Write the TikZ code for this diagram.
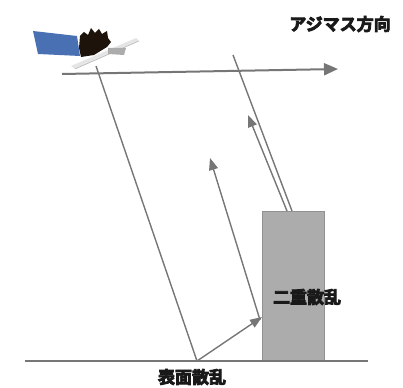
\documentclass[tikz,border=0pt]{standalone}
\usepackage{fontspec}
\newfontfamily\jpfont{Noto Sans CJK JP Bold}
\usetikzlibrary{arrows.meta}

% heavier strokes for the labels
\newcommand\heavytext[1]{\special{pdf:literal direct 2 Tr 0.8 w}#1\special{pdf:literal direct 0 Tr}}

\definecolor{raygray}{RGB}{118,118,118}
\definecolor{wallgray}{RGB}{172,172,172}
\definecolor{panelblue}{RGB}{72,112,178}

\tikzset{
    ray/.style={draw=raygray, line width=1.4pt},
    rayarrow/.style={ray, -{Triangle[length=12pt,width=9pt]}},
    label/.style={font=\jpfont\fontsize{17}{17}\selectfont, inner sep=0pt, text=black!90},
    pics/satellite/.style={
      code={
        % solar panel
        \fill[panelblue] (-63,-35) -- (-19,-30) -- (-16,-10) -- (-58,-12) -- cycle;
        % body
        \fill[black!85!brown] (-16,-30) -- (-12,-34) -- (-8,-31) -- (-5,-38) -- (-1,-33)
             -- (3,-37) -- (6,-32) -- (11,-35) -- (12,-28) -- (15,-24) -- (11,-19)
             -- (-2,-11) -- (-15,-9) -- (-17,-18) -- cycle;
        % base plate
        \fill[gray!20] (-25,0) -- (40,-28) -- (43,-25) -- (-21,3) -- cycle;
        \draw[gray!60, line width=0.5pt] (-21,3) -- (43,-25);
        \fill[gray!65] (12,-18) -- (30,-18) -- (28,-11) -- (12,-12) -- cycle;
      }
    }
}

\begin{document}
\begin{tikzpicture}[x=1pt,y=-1pt]
    \useasboundingbox (0,0) rectangle (403,387);

    \pic at (96,66) {satellite};

    \coordinate (sat) at (96,66);
    \coordinate (gnd) at (197,361);
    \coordinate (wall) at (262,317);
    \coordinate (wallback) at (260,320);
    \coordinate (back) at (210,158);
    \coordinate (farsat) at (233,55);
    \coordinate (roof) at (292,211);
    \coordinate (roofback) at (287,211);
    \coordinate (up) at (248,115);
    \coordinate (azstart) at (62,74);
    \coordinate (azend) at (338,69);

    % building
    \filldraw[fill=wallgray, draw=wallgray!85!black, line width=0.6pt]
        (262,211) rectangle (324,361);

    % ground
    \draw[draw=raygray, line width=2pt] (25,361) -- (368,361);

    % rays
    \draw[ray] (sat) -- (gnd);
    \draw[rayarrow] (gnd) -- (wall);
    \draw[rayarrow] (wallback) -- (back);
    \draw[ray] (farsat) -- (roof);
    \draw[rayarrow] (roofback) -- (up);

    % azimuth
    \draw[draw=raygray, line width=2pt, -{Triangle[length=14pt,width=12pt]}] (azstart) -- (azend);

    \node[label] (azimuth) at (340,24) {\heavytext{アジマス方向}};
    \node[label] (double) at (307,297) {\heavytext{二重散乱}};
    \node[label] (surface) at (192,377) {\heavytext{表面散乱}};
\end{tikzpicture}
\end{document}
